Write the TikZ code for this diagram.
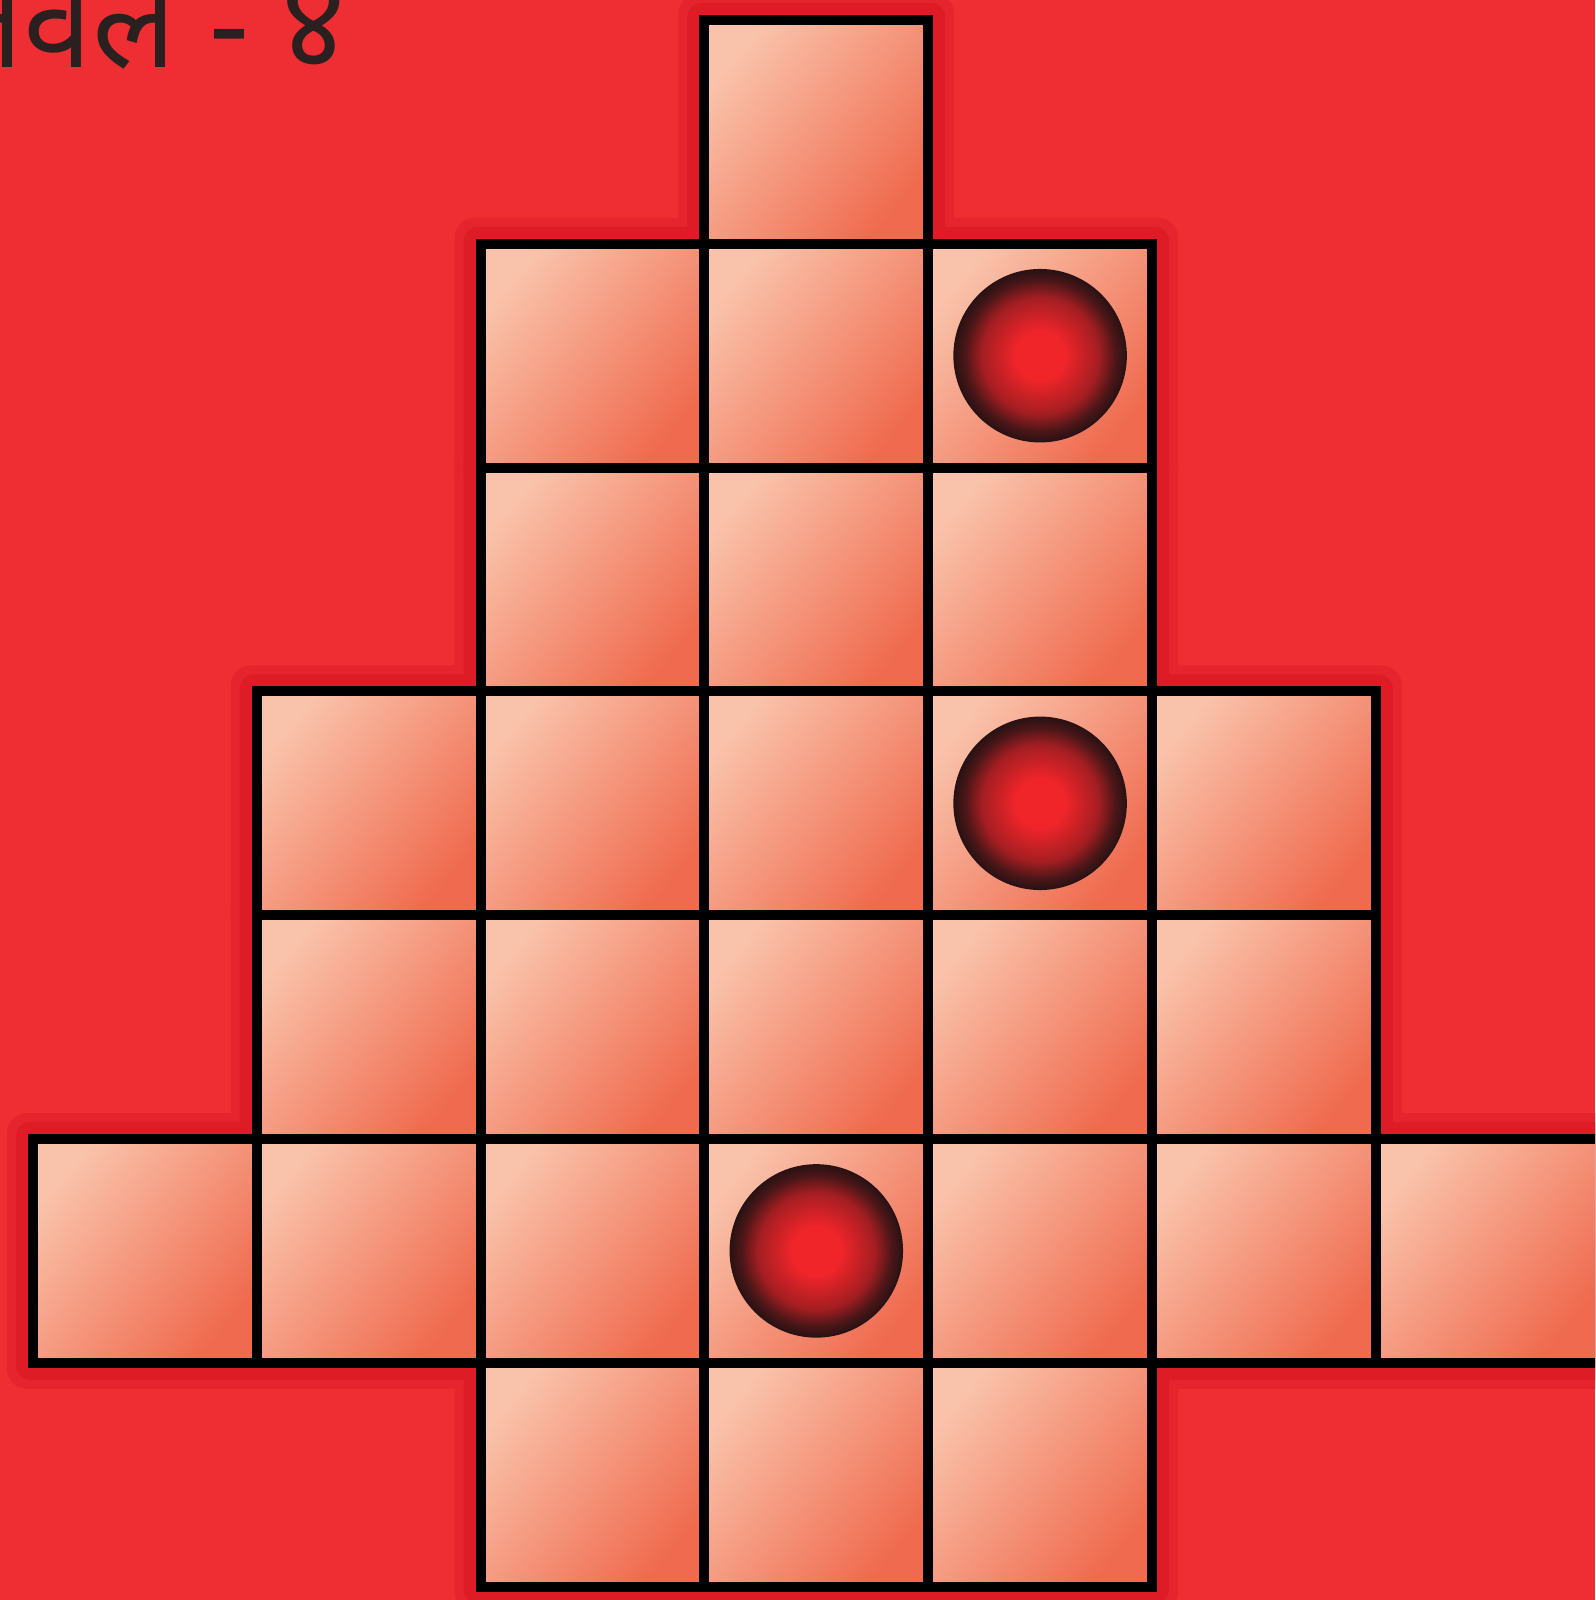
\documentclass[tikz,border=0pt]{standalone}
\usepackage{fontspec}
\newfontfamily\devfont[Script=Devanagari]{Noto Sans}
\definecolor{bgred}{HTML}{EE2E32}
\definecolor{halored}{HTML}{DD1C26}
\definecolor{halored2}{HTML}{E5242D}
\definecolor{celllight}{HTML}{F9C3AB}
\definecolor{celldark}{HTML}{EF6A4E}
\definecolor{ballc}{HTML}{F0252A}
\definecolor{ballm}{HTML}{A31E22}
\definecolor{balld}{HTML}{4A1618}
\definecolor{balle}{HTML}{2A1214}
\definecolor{txt}{HTML}{2A2020}
\pgfdeclareradialshading{ballshade}{\pgfpoint{0bp}{0bp}}{color(0bp)=(ballc); color(7bp)=(ballc); color(17bp)=(ballm); color(22bp)=(balld); color(25bp)=(balle); color(50bp)=(balle)}
\begin{document}
\begin{tikzpicture}[x=1pt,y=-1pt,
  cellbox/.style={rectangle, minimum size=223.8pt, inner sep=0pt, draw=black, line width=10pt,
    shading=axis, top color=celllight, bottom color=celldark, shading angle=50},
  ballnode/.style={circle, minimum size=172pt, inner sep=0pt, shading=ballshade, draw=balle, line width=1.5pt},
  halo/.style={fill=halored, rounded corners=14pt},
  halob/.style={fill=halored2, rounded corners=20pt}]
\useasboundingbox (0,0) rectangle (1595,1600);
\clip (0,0) rectangle (1595,1600);
\fill[bgred] (0,0) rectangle (1595,1600);
\def\cells{0/3,1/2,1/3,1/4,2/2,2/3,2/4,3/1,3/2,3/3,3/4,3/5,4/1,4/2,4/3,4/4,4/5,5/0,5/1,5/2,5/3,5/4,5/5,5/6,6/2,6/3,6/4}
\foreach \r/\c in \cells {
  \fill[halob] ({33+223.8*\c-26},{20+223.8*\r-26}) rectangle ++(275.8,275.8);
}
\foreach \r/\c in \cells {
  \fill[halo] ({33+223.8*\c-17},{20+223.8*\r-17}) rectangle ++(257.8,257.8);
}
\foreach \r/\c in \cells {
  \node[cellbox] (c\r\c) at ({33+223.8*(\c+0.5)},{20+223.8*(\r+0.5)}) {};
}
\node[ballnode] (ballA) at (c14) {};
\node[ballnode] (ballB) at (c34) {};
\node[ballnode] (ballC) at (c53) {};
\node[anchor=base east, inner sep=0pt, text=txt, font=\devfont\fontsize{124}{130}\selectfont] (title) at (346,68) {लेवल - ४};
\end{tikzpicture}
\end{document}
